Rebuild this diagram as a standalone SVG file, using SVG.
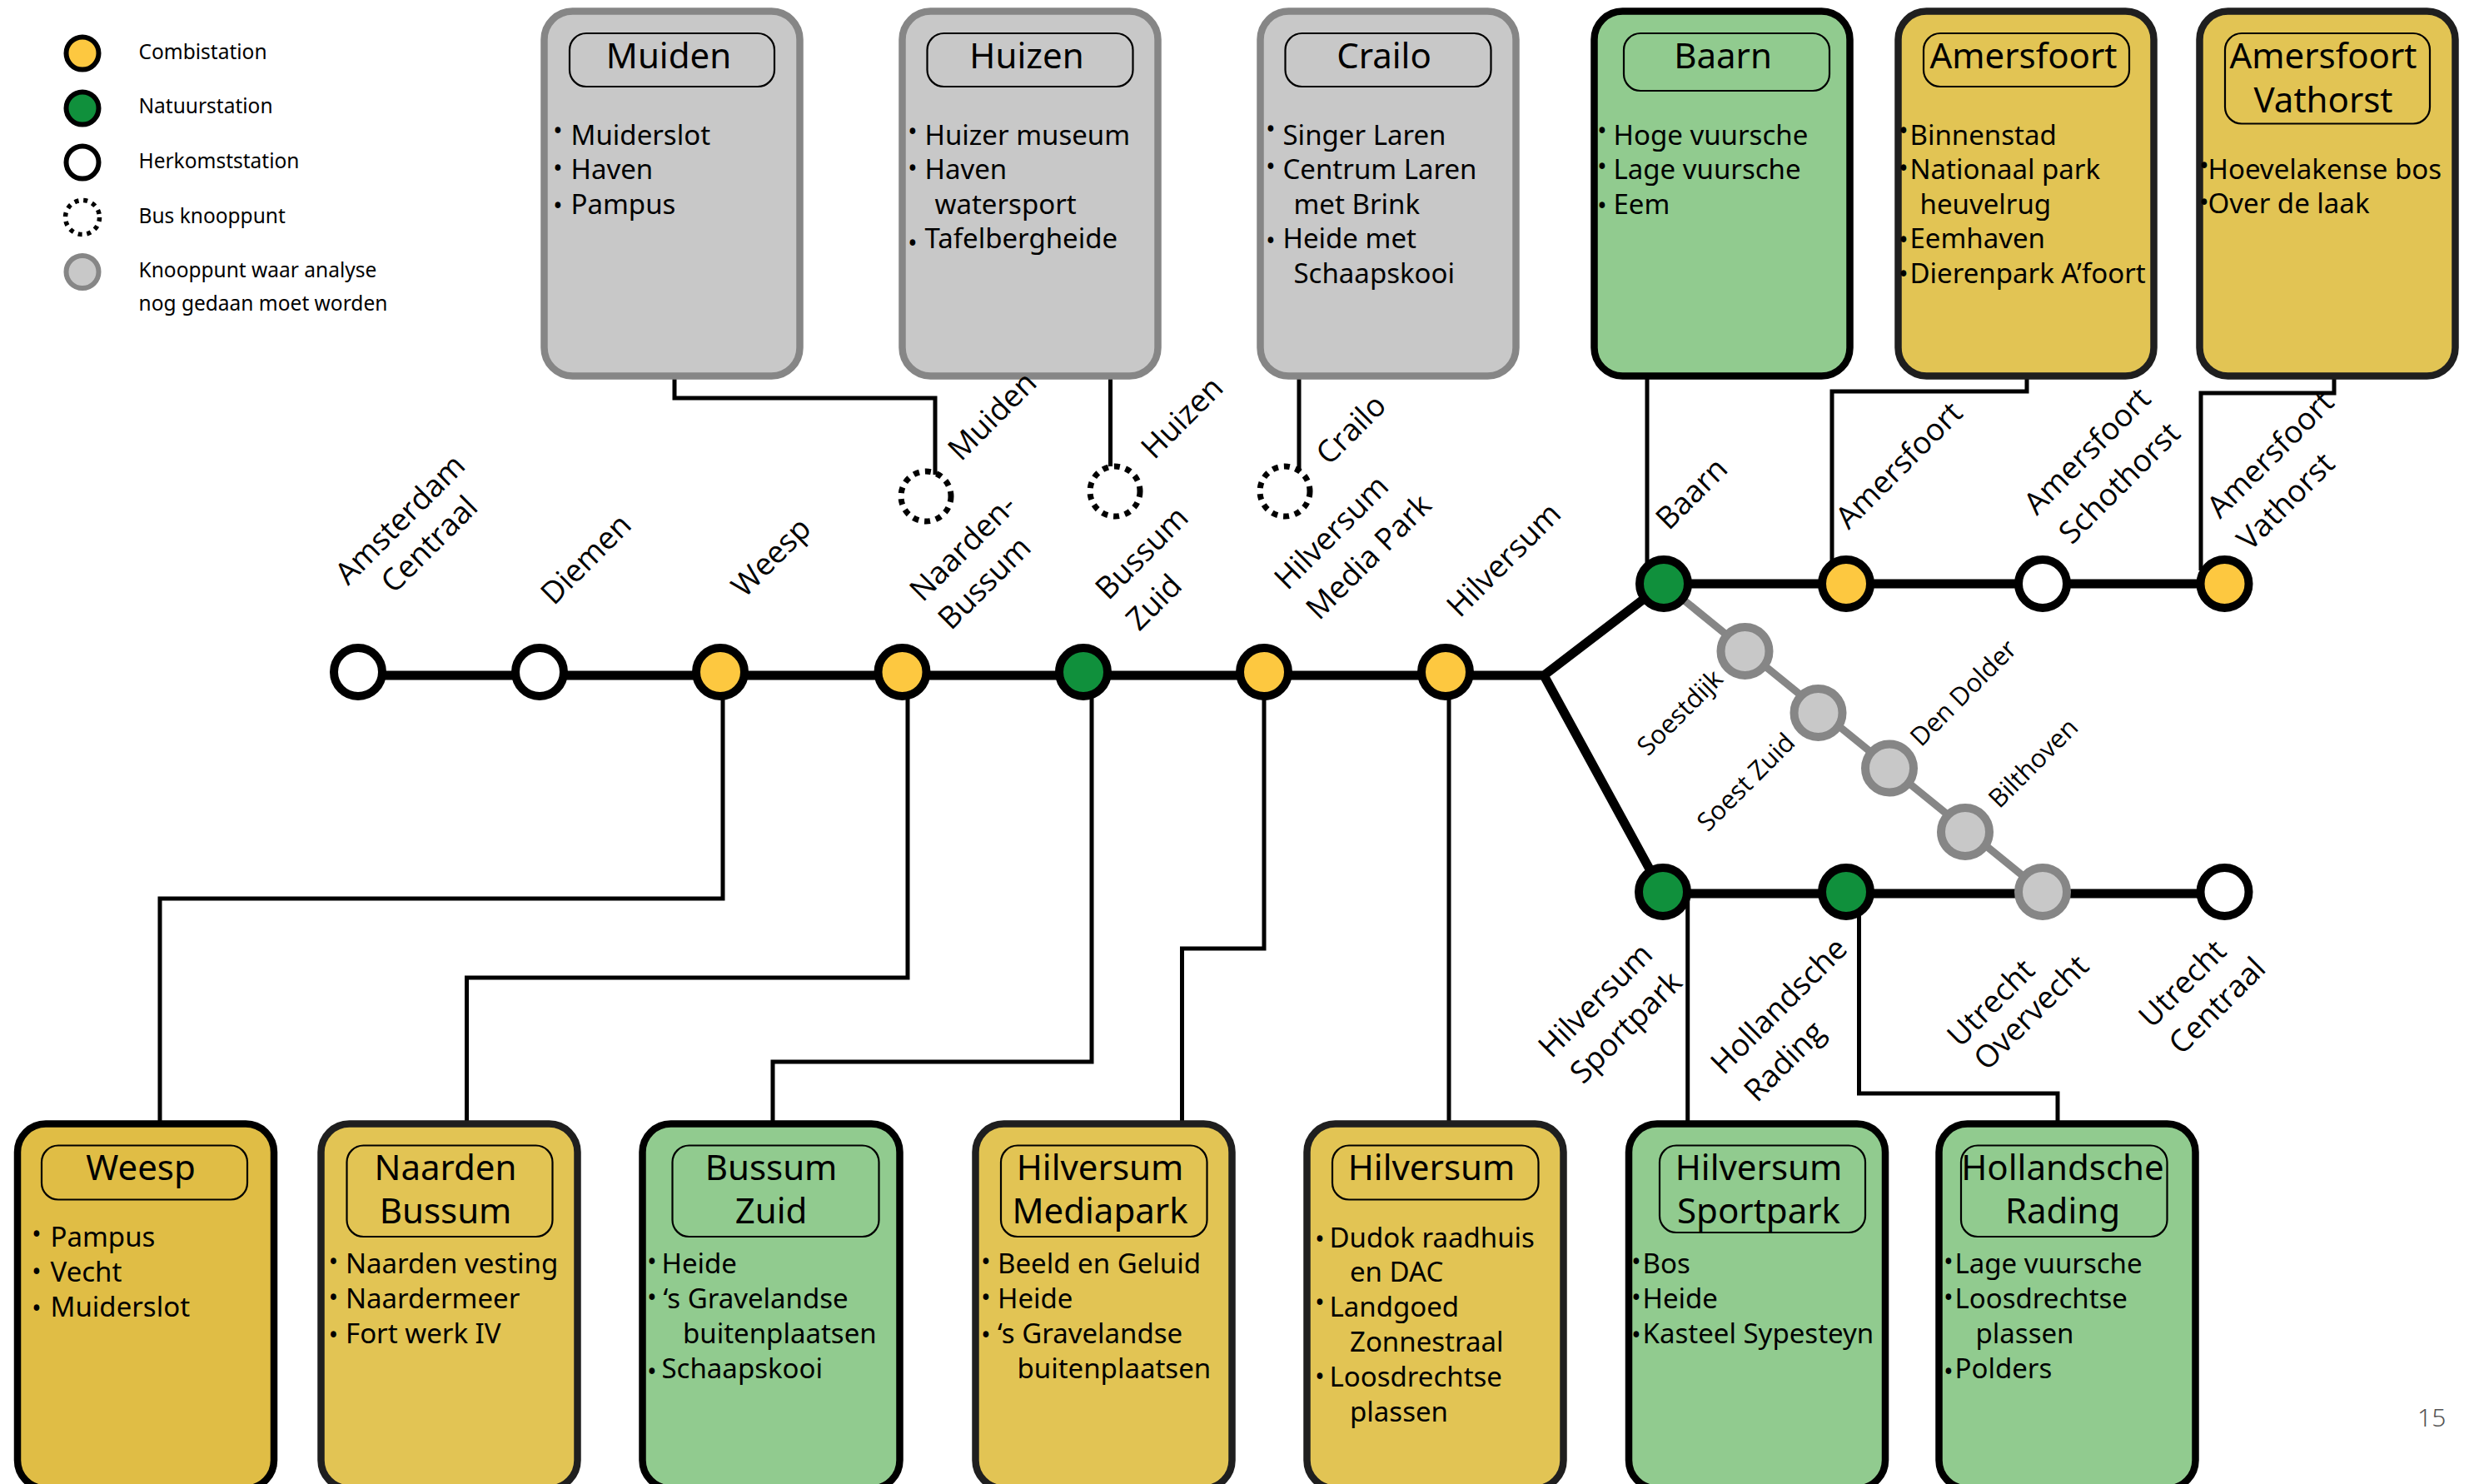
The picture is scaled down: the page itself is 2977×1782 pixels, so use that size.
<svg xmlns="http://www.w3.org/2000/svg" width="2977" height="1782" viewBox="0 0 2977 1782">
<style>
text{font-family:"Noto Sans","Liberation Sans",sans-serif;fill:#000}
.box{stroke-width:8.5}
.g{fill:#c8c8c8;stroke:#868686}
.y{fill:#e2c454;stroke:#1f1f1f}
.n{fill:#91cb8f;stroke:#000}
.tb{fill:none;stroke:#000;stroke-width:2.2}
.t{font-size:42px;text-anchor:middle}
.i{font-size:33px;transform:translateX(-1.5px)}
.b{font-size:30px;text-anchor:middle;transform:translateY(3px)}
.l{font-size:24.5px}
.s{font-family:"Open Sans","Noto Sans",sans-serif;font-size:37px}
.ss{font-family:"Open Sans","Noto Sans",sans-serif;font-size:31px}
.st{stroke:#000;stroke-width:10}
.stg{fill:#c8c8c8;stroke:#868686;stroke-width:10}
.sy{fill:#fdc840}.sn{fill:#10903c}.sw{fill:#fff}
.dot{fill:none;stroke:#000;stroke-width:7;stroke-dasharray:7 7}
.c{fill:none;stroke:#000;stroke-width:5}
.m{fill:none;stroke:#000;stroke-width:11}
</style>
<g id="connectors">
<path class="m" d="M430 811H1854L1998 701H2671M1854 811L1997 1073H2671"/>
<path d="M1998 701L2453 1071" fill="none" stroke="#868686" stroke-width="9"/>
<path class="c" d="M810 452V478H1123V570"/>
<path class="c" d="M1333.5 452V560"/>
<path class="c" d="M1560 452V566"/>
<path class="c" d="M1978 452V680"/>
<path class="c" d="M2434 452V470H2200V680"/>
<path class="c" stroke-width="6" d="M2803 452V472H2643V685"/>
<path class="c" d="M868 835V1079H192V1350"/>
<path class="c" d="M1090 835V1174H560.5V1350"/>
<path class="c" d="M1311 835V1275H928V1350"/>
<path class="c" d="M1518 835V1139H1419.5V1350"/>
<path class="c" d="M1740 835V1350"/>
<path class="c" d="M2026.7 1075V1350"/>
<path class="c" d="M2232.5 1090V1313H2471V1350"/>
</g>
<g id="legend">
<circle cx="99" cy="64" r="19.5" fill="#fdc840" stroke="#000" stroke-width="6"/>
<circle cx="99" cy="130" r="19.5" fill="#10903c" stroke="#000" stroke-width="6"/>
<circle cx="99" cy="195" r="19.5" fill="#fff" stroke="#000" stroke-width="6"/>
<circle cx="99" cy="261" r="20.5" fill="none" stroke="#000" stroke-width="5.5" stroke-dasharray="5 5.8"/>
<circle cx="99" cy="326.5" r="19.5" fill="#c8c8c8" stroke="#868686" stroke-width="6"/>
<text class="l" x="166.5" y="71">Combistation</text>
<text class="l" x="166.5" y="136">Natuurstation</text>
<text class="l" x="166.5" y="201.5">Herkomststation</text>
<text class="l" x="166.5" y="267.5">Bus knooppunt</text>
<text class="l" x="166.5" y="333">Knooppunt waar analyse</text>
<text class="l" x="166.5" y="373">nog gedaan moet worden</text>
</g>
<g id="box-muiden">
<rect class="box g" x="653.5" y="13.5" width="307" height="438" rx="34"/>
<rect class="tb" x="684" y="40" width="246" height="64" rx="20"/>
<text class="t" x="803" y="82">Muiden</text>
<text class="b" x="670" y="165">•</text><text class="i" x="687" y="174">Muiderslot</text>
<text class="b" x="670" y="210">•</text><text class="i" x="687" y="215">Haven</text>
<text class="b" x="670" y="255">•</text><text class="i" x="687" y="256.5">Pampus</text>
</g>
<g id="box-huizen">
<rect class="box g" x="1083.5" y="13.5" width="307" height="438" rx="34"/>
<rect class="tb" x="1113.5" y="40" width="247" height="64" rx="20"/>
<text class="t" x="1233" y="82">Huizen</text>
<text class="b" x="1096" y="166">•</text><text class="i" x="1112" y="174">Huizer museum</text>
<text class="b" x="1096" y="210">•</text><text class="i" x="1112" y="215">Haven</text>
<text class="i" x="1124" y="256.5">watersport</text>
<text class="b" x="1096" y="300">•</text><text class="i" x="1112" y="298">Tafelbergheide</text>
</g>
<g id="box-crailo">
<rect class="box g" x="1513.5" y="13.5" width="307" height="438" rx="34"/>
<rect class="tb" x="1543.5" y="40" width="247" height="64" rx="20"/>
<text class="t" x="1662" y="82">Crailo</text>
<text class="b" x="1526" y="163">•</text><text class="i" x="1542" y="174">Singer Laren</text>
<text class="b" x="1526" y="208">•</text><text class="i" x="1542" y="215">Centrum Laren</text>
<text class="i" x="1555" y="256.5">met Brink</text>
<text class="b" x="1526" y="297">•</text><text class="i" x="1542" y="298">Heide met</text>
<text class="i" x="1555" y="340">Schaapskooi</text>
</g>
<g id="box-baarn">
<rect class="box n" x="1914.5" y="13.5" width="307" height="438" rx="34"/>
<rect class="tb" x="1950" y="40" width="247" height="69" rx="20"/>
<text class="t" x="2069" y="82">Baarn</text>
<text class="b" x="1924" y="165">•</text><text class="i" x="1939" y="174">Hoge vuursche</text>
<text class="b" x="1924" y="208">•</text><text class="i" x="1939" y="215">Lage vuursche</text>
<text class="b" x="1924" y="255">•</text><text class="i" x="1939" y="256.5">Eem</text>
</g>
<g id="box-amersfoort">
<rect class="box y" x="2279.5" y="13.5" width="307" height="438" rx="34"/>
<rect class="tb" x="2310" y="40" width="247" height="64" rx="20"/>
<text class="t" x="2430" y="82">Amersfoort</text>
<text class="b" x="2286" y="165">•</text><text class="i" x="2295" y="174">Binnenstad</text>
<text class="b" x="2286" y="210">•</text><text class="i" x="2295" y="215">Nationaal park</text>
<text class="i" x="2307" y="256.5">heuvelrug</text>
<text class="b" x="2286" y="296">•</text><text class="i" x="2295" y="298">Eemhaven</text>
<text class="b" x="2286" y="337">•</text><text class="i" x="2295" y="340">Dierenpark A’foort</text>
</g>
<g id="box-vathorst">
<rect class="box y" x="2641.5" y="13.5" width="307" height="438" rx="34"/>
<rect class="tb" x="2672" y="40" width="246" height="108.5" rx="20"/>
<text class="t" x="2790" y="82">Amersfoort</text>
<text class="t" x="2790" y="134.5">Vathorst</text>
<text class="b" x="2647" y="207">•</text><text class="i" x="2653" y="215">Hoevelakense bos</text>
<text class="b" x="2647" y="251">•</text><text class="i" x="2653" y="256">Over de laak</text>
</g>
<g id="box-weesp">
<rect class="box y" style="fill:#e0bd45;stroke:#000" x="21" y="1349.5" width="308" height="438" rx="34"/>
<rect class="tb" x="50" y="1375.5" width="247" height="65" rx="20"/>
<text class="t" x="169" y="1416.5">Weesp</text>
<text class="b" x="44" y="1490">•</text><text class="i" x="62" y="1497">Pampus</text>
<text class="b" x="44" y="1534.5">•</text><text class="i" x="62" y="1538.5">Vecht</text>
<text class="b" x="44" y="1578.5">•</text><text class="i" x="62" y="1581">Muiderslot</text>
</g>
<g id="box-naarden-bussum">
<rect class="box y" x="385.5" y="1349.5" width="308" height="438" rx="34"/>
<rect class="tb" x="416.5" y="1375.5" width="247" height="109.5" rx="20"/>
<text class="t" x="535" y="1416.5">Naarden</text>
<text class="t" x="535" y="1469">Bussum</text>
<text class="b" x="400.5" y="1522.5">•</text><text class="i" x="416.5" y="1529">Naarden vesting</text>
<text class="b" x="400.5" y="1566">•</text><text class="i" x="416.5" y="1571">Naardermeer</text>
<text class="b" x="400.5" y="1611">•</text><text class="i" x="416.5" y="1613">Fort werk IV</text>
</g>
<g id="box-bussum-zuid">
<rect class="box n" x="771.5" y="1349.5" width="309" height="438" rx="34"/>
<rect class="tb" x="807.5" y="1375.5" width="248" height="109.5" rx="20"/>
<text class="t" x="926" y="1416.5">Bussum</text>
<text class="t" x="926" y="1469">Zuid</text>
<text class="b" x="783" y="1522.5">•</text><text class="i" x="796" y="1529">Heide</text>
<text class="b" x="783" y="1566">•</text><text class="i" x="798" y="1571">‘s Gravelandse</text>
<text class="i" x="821.5" y="1613">buitenplaatsen</text>
<text class="b" x="783" y="1655">•</text><text class="i" x="796" y="1654.5">Schaapskooi</text>
</g>
<g id="box-hilversum-mediapark">
<rect class="box y" x="1171.5" y="1349.5" width="308" height="438" rx="34"/>
<rect class="tb" x="1202" y="1375.5" width="247.5" height="109.5" rx="20"/>
<text class="t" x="1321" y="1416.5">Hilversum</text>
<text class="t" x="1321" y="1469">Mediapark</text>
<text class="b" x="1184" y="1522.5">•</text><text class="i" x="1199.5" y="1529">Beeld en Geluid</text>
<text class="b" x="1184" y="1566">•</text><text class="i" x="1199.5" y="1571">Heide</text>
<text class="b" x="1184" y="1611">•</text><text class="i" x="1199.5" y="1613">‘s Gravelandse</text>
<text class="i" x="1223" y="1654.5">buitenplaatsen</text>
</g>
<g id="box-hilversum">
<rect class="box y" x="1569.5" y="1349.5" width="308" height="438" rx="34"/>
<rect class="tb" x="1600" y="1375.5" width="247.5" height="65" rx="20"/>
<text class="t" x="1719" y="1416.5">Hilversum</text>
<text class="b" x="1585" y="1495.5">•</text><text class="i" x="1598" y="1497.5">Dudok raadhuis</text>
<text class="i" x="1622.5" y="1538.5">en DAC</text>
<text class="b" x="1585" y="1572">•</text><text class="i" x="1598" y="1581">Landgoed</text>
<text class="i" x="1622.5" y="1622.5">Zonnestraal</text>
<text class="b" x="1585" y="1661">•</text><text class="i" x="1598" y="1664.5">Loosdrechtse</text>
<text class="i" x="1622.5" y="1706.5">plassen</text>
</g>
<g id="box-hilversum-sportpark">
<rect class="box n" x="1956" y="1349.5" width="308" height="438" rx="34"/>
<rect class="tb" x="1993" y="1375.5" width="247" height="104.5" rx="20"/>
<text class="t" x="2112" y="1416.5">Hilversum</text>
<text class="t" x="2112" y="1469">Sportpark</text>
<text class="b" x="1965" y="1522.5">•</text><text class="i" x="1974" y="1529">Bos</text>
<text class="b" x="1965" y="1566">•</text><text class="i" x="1974" y="1571">Heide</text>
<text class="b" x="1965" y="1611">•</text><text class="i" x="1974" y="1613">Kasteel Sypesteyn</text>
</g>
<g id="box-hollandsche-rading">
<rect class="box n" x="2328.5" y="1349.5" width="308" height="438" rx="34"/>
<rect class="tb" x="2355" y="1375.5" width="247.5" height="109.5" rx="20"/>
<text class="t" x="2477" y="1416.5">Hollandsche</text>
<text class="t" x="2477" y="1469">Rading</text>
<text class="b" x="2340" y="1522.5">•</text><text class="i" x="2349" y="1529">Lage vuursche</text>
<text class="b" x="2340" y="1566">•</text><text class="i" x="2349" y="1571">Loosdrechtse</text>
<text class="i" x="2374" y="1613">plassen</text>
<text class="b" x="2340" y="1655">•</text><text class="i" x="2349" y="1655">Polders</text>
</g>
<g id="bus-muiden"><circle class="dot" cx="1112" cy="596" r="30"/><text class="s" transform="translate(1154 555) rotate(-45)">Muiden</text></g>
<g id="bus-huizen"><circle class="dot" cx="1339" cy="590" r="30"/><text class="s" transform="translate(1386 553) rotate(-45)">Huizen</text></g>
<g id="bus-crailo"><circle class="dot" cx="1543" cy="590" r="30"/><text class="s" transform="translate(1596 560) rotate(-45)">Crailo</text></g>
<g id="st-amsterdam"><circle class="st sw" cx="430" cy="807" r="29"/><text class="s" transform="translate(418 704) rotate(-45)">Amsterdam</text><text class="s" transform="translate(473 714) rotate(-45)">Centraal</text></g>
<g id="st-diemen"><circle class="st sw" cx="648" cy="807" r="29"/><text class="s" transform="translate(665 728) rotate(-45)">Diemen</text></g>
<g id="st-weesp"><circle class="st sy" cx="865" cy="807" r="29"/><text class="s" transform="translate(894 719) rotate(-45)">Weesp</text></g>
<g id="st-naarden-bussum"><circle class="st sy" cx="1083.5" cy="807" r="29"/><text class="s" transform="translate(1108 724) rotate(-45)">Naarden-</text><text class="s" transform="translate(1142 758) rotate(-45)">Bussum</text></g>
<g id="st-bussum-zuid"><circle class="st sn" cx="1301" cy="807" r="29"/><text class="s" transform="translate(1331 722) rotate(-45)">Bussum</text><text class="s" transform="translate(1368 759) rotate(-45)">Zuid</text></g>
<g id="st-media-park"><circle class="st sy" cx="1518" cy="807" r="29"/><text class="s" transform="translate(1546 710) rotate(-45)">Hilversum</text><text class="s" transform="translate(1584 746) rotate(-45)">Media Park</text></g>
<g id="st-hilversum"><circle class="st sy" cx="1736" cy="807" r="29"/><text class="s" transform="translate(1753 743) rotate(-45)">Hilversum</text></g>
<g id="st-baarn"><circle class="st sn" cx="1998" cy="701" r="29"/><text class="s" transform="translate(2004 638) rotate(-45)">Baarn</text></g>
<g id="st-amersfoort"><circle class="st sy" cx="2217" cy="701" r="29"/><text class="s" transform="translate(2220 637) rotate(-45)">Amersfoort</text></g>
<g id="st-schothorst"><circle class="st sw" cx="2453" cy="701" r="29"/><text class="s" transform="translate(2446 620) rotate(-45)">Amersfoort</text><text class="s" transform="translate(2488 655) rotate(-45)">Schothorst</text></g>
<g id="st-vathorst"><circle class="st sy" cx="2671.5" cy="701" r="29"/><text class="s" transform="translate(2666 624) rotate(-45)">Amersfoort</text><text class="s" transform="translate(2702 663) rotate(-45)">Vathorst</text></g>
<g id="st-soestdijk"><circle class="stg" cx="2095.5" cy="782" r="29"/><text class="ss" transform="translate(1979 909) rotate(-45)">Soestdijk</text></g>
<g id="st-soest-zuid"><circle class="stg" cx="2183.5" cy="856" r="29"/><text class="ss" transform="translate(2051 1000) rotate(-45)">Soest Zuid</text></g>
<g id="st-den-dolder"><circle class="stg" cx="2269" cy="922.5" r="29"/><text class="ss" transform="translate(2307 898) rotate(-45)">Den Dolder</text></g>
<g id="st-bilthoven"><circle class="stg" cx="2360" cy="999" r="29"/><text class="ss" transform="translate(2401 972) rotate(-45)">Bilthoven</text></g>
<g id="st-sportpark"><circle class="st sn" cx="1997" cy="1071" r="29"/><text class="s" transform="translate(1863 1272) rotate(-45)">Hilversum</text><text class="s" transform="translate(1901 1303) rotate(-45)">Sportpark</text></g>
<g id="st-hollandsche-rading"><circle class="st sn" cx="2217" cy="1071" r="29"/><text class="s" transform="translate(2070 1292) rotate(-45)">Hollandsche</text><text class="s" transform="translate(2110 1325) rotate(-45)">Rading</text></g>
<g id="st-overvecht"><circle class="stg" cx="2453" cy="1071" r="29"/><text class="s" transform="translate(2354 1259) rotate(-45)">Utrecht</text><text class="s" transform="translate(2386 1287) rotate(-45)">Overvecht</text></g>
<g id="st-utrecht-centraal"><circle class="st sw" cx="2671.5" cy="1071" r="29"/><text class="s" transform="translate(2584 1236) rotate(-45)">Utrecht</text><text class="s" transform="translate(2620 1268) rotate(-45)">Centraal</text></g>
<text x="2903" y="1713" font-size="30" font-weight="300" style="fill:#555">15</text>
</svg>
